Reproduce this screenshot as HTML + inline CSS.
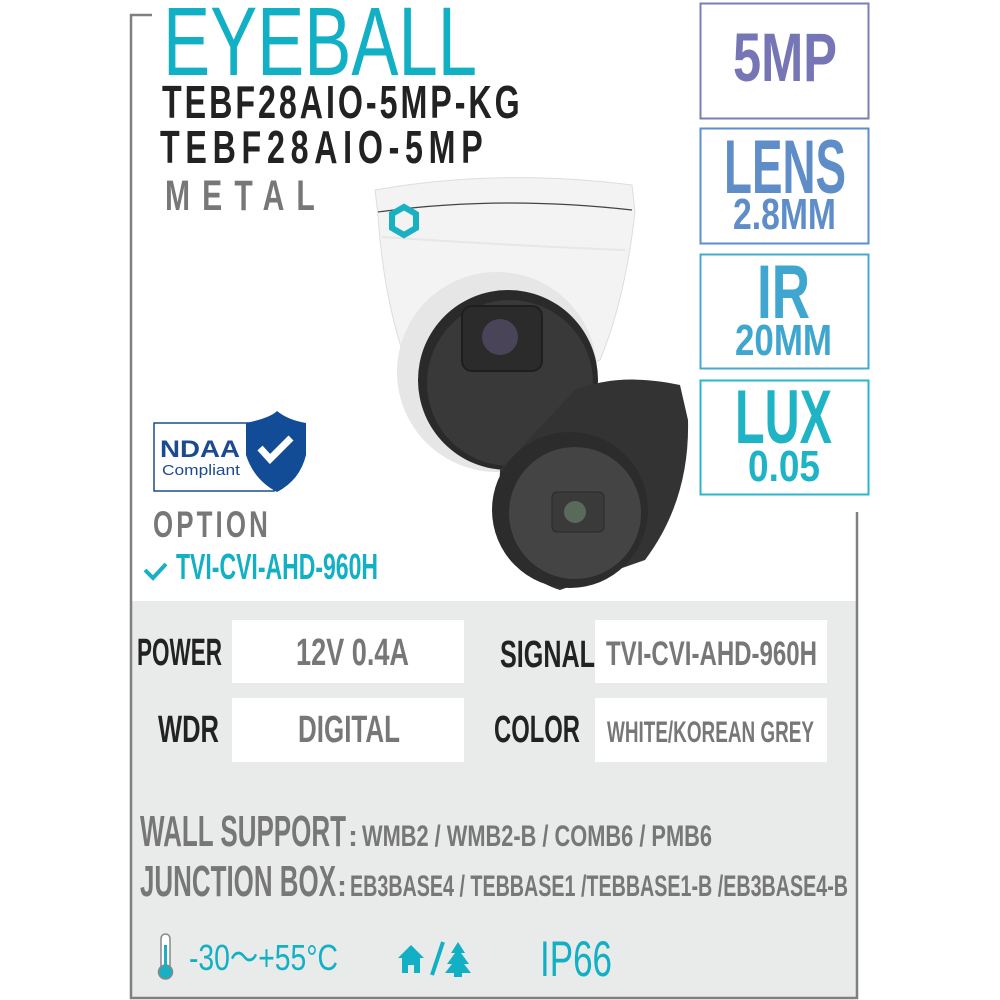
<!DOCTYPE html>
<html><head><meta charset="utf-8"><style>html,body{margin:0;padding:0;background:#fff}svg{display:block}text{font-family:"Liberation Sans",sans-serif;font-weight:bold}</style></head>
<body>
<svg width="1000" height="1000" viewBox="0 0 1000 1000" xmlns="http://www.w3.org/2000/svg">
<rect width="1000" height="1000" fill="#fff"/>
<rect x="131" y="601" width="726" height="397" fill="#e9ebea"/>
<path d="M152 15 H131 V998 H857 V512" fill="none" stroke="#808080" stroke-width="2.5"/>
<rect x="700.5" y="3.5" width="168" height="115" fill="none" stroke="#7b7db8" stroke-width="2"/>
<rect x="700.5" y="128.5" width="168" height="115" fill="none" stroke="#5e8ecb" stroke-width="2"/>
<rect x="700.5" y="254.5" width="168" height="114" fill="none" stroke="#47a8d2" stroke-width="2"/>
<rect x="700.5" y="380.5" width="168" height="114" fill="none" stroke="#2bb5c8" stroke-width="2"/>
<text x="733" y="81" font-size="69" fill="#7676b6" textLength="104" lengthAdjust="spacingAndGlyphs">5MP</text>
<text x="724" y="193" font-size="76" fill="#5e8dc8" textLength="122" lengthAdjust="spacingAndGlyphs">LENS</text>
<text x="733" y="229" font-size="44" fill="#5e8dc8" textLength="103" lengthAdjust="spacingAndGlyphs">2.8MM</text>
<text x="757" y="318" font-size="76" fill="#3fa6cf" textLength="53" lengthAdjust="spacingAndGlyphs">IR</text>
<text x="735" y="355" font-size="44" fill="#3fa6cf" textLength="97" lengthAdjust="spacingAndGlyphs">20MM</text>
<text x="735" y="443" font-size="76" fill="#1fb3c6" textLength="97" lengthAdjust="spacingAndGlyphs">LUX</text>
<text x="748" y="481" font-size="44" fill="#1fb3c6" textLength="72" lengthAdjust="spacingAndGlyphs">0.05</text>
<text x="163" y="75" font-size="97" fill="#12b0c4" textLength="314" lengthAdjust="spacingAndGlyphs" style="font-weight:normal">EYEBALL</text>
<text transform="translate(162 118) scale(0.7 1)" x="0" y="0" font-size="46" fill="#222" textLength="511" lengthAdjust="spacing">TEBF28AIO-5MP-KG</text>
<text transform="translate(160 163) scale(0.7 1)" x="0" y="0" font-size="46" fill="#222" textLength="461" lengthAdjust="spacing">TEBF28AIO-5MP</text>
<text transform="translate(165 210) scale(0.7 1)" x="0" y="0" font-size="43" fill="#777" textLength="214" lengthAdjust="spacing">METAL</text>
<!-- camera white -->
<path d="M375 190 Q500 168 632 185 L635 212 Q625 300 600 360 L430 420 Q385 330 378 215 Z" fill="#f3f3f3" stroke="#ddd"/>
<path d="M378 212 Q500 195 632 210" fill="none" stroke="#444" stroke-width="1.2"/>
<path d="M382 237 Q500 245 625 250" fill="none" stroke="#e6e6e6" stroke-width="2"/>
<path d="M392 214 l12 -7 l12 7 l0 14 l-12 7 l-12 -7 z" fill="none" stroke="#1ab0c4" stroke-width="6"/>
<circle cx="497" cy="372" r="100" fill="#e6e6e6"/>
<circle cx="508" cy="380" r="90" fill="#2a2a2a"/>
<circle cx="510" cy="383" r="83" fill="#393939"/>
<rect x="462" y="306" width="80" height="65" rx="10" fill="#2b2b2b" stroke="#1f1f1f" stroke-width="2"/>
<circle cx="500" cy="337" r="18" fill="#4a4458"/>
<!-- camera black -->
<path d="M575 390 Q620 372 680 385 L688 420 Q690 500 645 560 L560 590 Q495 570 500 470 Z" fill="#333"/>
<circle cx="570" cy="510" r="78" fill="#2c2c2c"/>
<circle cx="575" cy="513" r="66" fill="#444"/>
<rect x="552" y="492" width="52" height="40" rx="5" fill="#3a3a3a" stroke="#2a2a2a"/>
<circle cx="575" cy="512" r="11" fill="#5a6a5a"/>
<!-- NDAA -->
<rect x="154" y="423" width="120" height="68" fill="#fff" stroke="#1c4a91" stroke-width="1.5"/>
<text x="160" y="457" font-size="24" fill="#1c4a91" textLength="80" lengthAdjust="spacingAndGlyphs">NDAA</text>
<text x="162" y="475" font-size="15" fill="#1c4a91" textLength="78" lengthAdjust="spacingAndGlyphs" style="font-weight:normal">Compliant</text>
<path d="M246 423 Q270 418 277 411 Q288 420 306 423 L306 455 Q300 480 277 492 Q254 480 246 455 Z" fill="#124b96"/>
<path d="M260 448 l10 11 l21 -21" fill="none" stroke="#fff" stroke-width="7"/>
<text transform="translate(153 537) scale(0.7 1)" x="0" y="0" font-size="37" fill="#777" textLength="164" lengthAdjust="spacing">OPTION</text>
<path d="M145 570 l8 8 l13 -14" fill="none" stroke="#1ab0c4" stroke-width="4"/>
<text x="176" y="579" font-size="36" fill="#12b0c4" textLength="202" lengthAdjust="spacingAndGlyphs">TVI-CVI-AHD-960H</text>
<rect x="232" y="620" width="232" height="63" fill="#fff"/>
<rect x="232" y="698" width="232" height="64" fill="#fff"/>
<rect x="595" y="620" width="232" height="63" fill="#fff"/>
<rect x="595" y="698" width="232" height="64" fill="#fff"/>
<text x="137" y="665" font-size="38" fill="#222" textLength="85" lengthAdjust="spacingAndGlyphs">POWER</text>
<text x="296" y="665" font-size="38" fill="#777" textLength="113" lengthAdjust="spacingAndGlyphs">12V 0.4A</text>
<text x="500" y="667" font-size="38" fill="#222" textLength="95" lengthAdjust="spacingAndGlyphs">SIGNAL</text>
<text x="606" y="665" font-size="34" fill="#777" textLength="211" lengthAdjust="spacingAndGlyphs">TVI-CVI-AHD-960H</text>
<text x="158" y="742" font-size="38" fill="#222" textLength="61" lengthAdjust="spacingAndGlyphs">WDR</text>
<text x="298" y="742" font-size="38" fill="#777" textLength="102" lengthAdjust="spacingAndGlyphs">DIGITAL</text>
<text x="494" y="742" font-size="38" fill="#222" textLength="86" lengthAdjust="spacingAndGlyphs">COLOR</text>
<text x="607" y="742" font-size="30" fill="#777" textLength="207" lengthAdjust="spacingAndGlyphs">WHITE/KOREAN GREY</text>
<text x="140" y="846" font-size="44" fill="#777" textLength="206" lengthAdjust="spacingAndGlyphs">WALL SUPPORT</text>
<text x="348" y="846" font-size="30" fill="#777">:</text>
<text x="362" y="846" font-size="30" fill="#777" textLength="350" lengthAdjust="spacingAndGlyphs">WMB2 / WMB2-B / COMB6 / PMB6</text>
<text x="140" y="896" font-size="44" fill="#777" textLength="196" lengthAdjust="spacingAndGlyphs">JUNCTION BOX</text>
<text x="337" y="896" font-size="30" fill="#777">:</text>
<text x="350" y="896" font-size="30" fill="#777" textLength="498" lengthAdjust="spacingAndGlyphs">EB3BASE4 / TEBBASE1 /TEBBASE1-B /EB3BASE4-B</text>
<rect x="161" y="934" width="9" height="40" rx="4.5" fill="#fff" stroke="#888" stroke-width="1.5"/>
<circle cx="165.5" cy="972" r="7" fill="#1ab0c4" stroke="#888" stroke-width="1.5"/>
<rect x="164" y="945" width="3" height="25" fill="#1ab0c4"/>
<text x="189" y="970" font-size="36" fill="#12b0c4" textLength="149" lengthAdjust="spacingAndGlyphs" style="font-weight:normal">-30～+55°C</text>
<path d="M398 958 l13 -13 l13 13 h-4 v15 h-6 v-8 h-6 v8 h-6 v-15 z" fill="#12b0c4"/>
<path d="M432 975 l11 -33" stroke="#12b0c4" stroke-width="4"/>
<path d="M458 942 l7 11 h-4 l8 11 h-5 l7 9 h-9 v4 h-8 v-4 h-9 l7 -9 h-5 l8 -11 h-4 z" fill="#12b0c4"/>
<text x="540" y="976" font-size="50" fill="#12b0c4" textLength="72" lengthAdjust="spacingAndGlyphs" style="font-weight:normal">IP66</text>
</svg>
</body></html>
